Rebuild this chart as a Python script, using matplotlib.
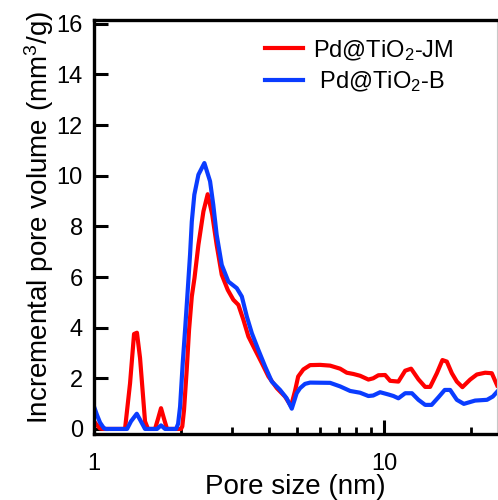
import matplotlib
matplotlib.use("Agg")
import matplotlib.pyplot as plt
from matplotlib.ticker import LogLocator, NullFormatter, FixedLocator, FixedFormatter

plt.rcParams['font.family'] = ['Liberation Sans', 'DejaVu Sans']
plt.rcParams['mathtext.fontset'] = 'custom'
plt.rcParams['mathtext.rm'] = 'Liberation Sans'
plt.rcParams['mathtext.it'] = 'Liberation Sans'

# Pore size distributions (pore width in nm, incremental volume in mm^3/g)
jm_size = [1.00, 1.024, 1.049, 1.074, 1.279, 1.331, 1.374, 1.406, 1.441, 1.499,
           1.535, 1.623, 1.662, 1.702, 1.743, 1.785, 1.995, 2.015, 2.043, 2.087,
           2.126, 2.173, 2.22, 2.290, 2.383, 2.465, 2.556, 2.647, 2.756, 2.891,
           3.022, 3.145, 3.273, 3.406, 3.593, 3.789, 3.993, 4.268, 4.553, 4.776,
           4.93, 5.055, 5.268, 5.556, 6.016, 6.514, 7.052, 7.436, 7.839, 8.264,
           8.828, 9.17, 9.557, 10.08, 10.49, 11.20, 11.82, 12.39, 13.13, 13.85,
           14.41, 15.20, 15.89, 16.45, 17.12, 17.81, 18.62, 19.80, 20.88, 22.30,
           23.51, 24.53]
jm_volume = [0.30, 0.15, 0.02, 0.0, 0.0, 1.8, 3.75, 3.8, 2.8, 0.3,
             0.0, 0.0, 0.4, 0.82, 0.4, 0.0, 0.0, 0.1, 0.75, 2.33,
             3.91, 5.23, 5.96, 7.27, 8.59, 9.27, 8.46, 7.27, 6.09, 5.49,
             5.1, 4.9, 4.31, 3.65, 3.12, 2.6, 2.07, 1.61, 1.28, 0.9,
             1.5, 2.07, 2.35, 2.52, 2.53, 2.5, 2.38, 2.22, 2.17, 2.1,
             1.95, 2.0, 2.12, 2.13, 1.9, 1.87, 2.3, 2.38, 1.96, 1.66,
             1.66, 2.2, 2.72, 2.66, 2.2, 1.87, 1.65, 1.95, 2.15, 2.22,
             2.2, 1.72]

b_size = [1.00, 1.024, 1.049, 1.083, 1.100, 1.300, 1.341, 1.404, 1.451, 1.499,
          1.649, 1.702, 1.757, 1.918, 1.949, 1.980, 2.022, 2.060, 2.097, 2.143,
          2.173, 2.217, 2.290, 2.401, 2.512, 2.577, 2.647, 2.756, 2.905, 3.105,
          3.232, 3.363, 3.500, 3.686, 3.891, 4.101, 4.379, 4.614, 4.805, 4.995,
          5.132, 5.338, 5.556, 6.514, 7.052, 7.637, 8.264, 8.828, 9.17, 9.687,
          10.35, 10.77, 11.20, 11.82, 12.47, 13.13, 13.85, 14.58, 15.39, 16.18,
          16.89, 17.81, 18.83, 20.59, 22.63, 23.70, 24.53]
b_volume = [0.88, 0.55, 0.25, 0.02, 0.0, 0.0, 0.3, 0.6, 0.3, 0.0,
            0.0, 0.14, 0.0, 0.0, 0.2, 0.88, 2.6, 3.91, 5.23, 6.88,
            8.19, 9.25, 10.04, 10.5, 9.78, 8.85, 7.67, 6.48, 5.82, 5.56,
            5.23, 4.44, 3.78, 3.12, 2.46, 1.87, 1.54, 1.21, 0.8, 1.41,
            1.61, 1.78, 1.83, 1.82, 1.68, 1.5, 1.43, 1.3, 1.32, 1.45,
            1.36, 1.3, 1.21, 1.41, 1.41, 1.15, 0.95, 0.95, 1.25, 1.54,
            1.54, 1.15, 0.99, 1.12, 1.15, 1.28, 1.47]

y_ticks = [0, 2, 4, 6, 8, 10, 12, 14, 16]

fig = plt.figure(figsize=(4.98, 5.0), dpi=100)
ax = fig.add_axes([0.1888, 0.132, 0.8092, 0.828])

ax.plot(jm_size, jm_volume, color='#ff0000', lw=3.0, label='Pd@TiO$_2$-JM',
        solid_joinstyle='round')
ax.plot(b_size, b_volume, color='#0a3cff', lw=3.0, label=' Pd@TiO$_2$-B',
        solid_joinstyle='round')

ax.set_xscale('log')
ax.set_xlim(1, 24.5)
ax.set_ylim(-0.2, 16.15)

ax.xaxis.set_major_locator(FixedLocator([1, 10]))
ax.xaxis.set_major_formatter(FixedFormatter(['1', '10']))
ax.xaxis.set_minor_locator(LogLocator(base=10, subs=range(2, 10)))
ax.xaxis.set_minor_formatter(NullFormatter())
ax.set_yticks(y_ticks)

ax.tick_params(axis='both', which='major', direction='in', length=10, width=2.2,
               labelsize=17, pad=8)
ax.tick_params(axis='x', which='minor', direction='in', length=5, width=2.0)
ax.tick_params(axis='x', which='major', pad=14)

for side in ['left', 'bottom', 'top']:
    ax.spines[side].set_linewidth(2.4)
ax.spines['right'].set_linewidth(0.8)
ax.spines['right'].set_color('#c8c8c8')

ax.set_xlabel('Pore size (nm)', fontsize=20, labelpad=-1)
ax.set_ylabel('Incremental pore volume (mm$^3$/g)', fontsize=20)
ax.yaxis.set_label_coords(-0.094, 0.523)

ax.legend(loc='upper left', frameon=False, fontsize=17, handlelength=1.6,
          handletextpad=0.4, labelspacing=0.3, borderpad=0, borderaxespad=0,
          bbox_to_anchor=(0.425, 0.957))

fig.savefig('out.png', dpi=100)
